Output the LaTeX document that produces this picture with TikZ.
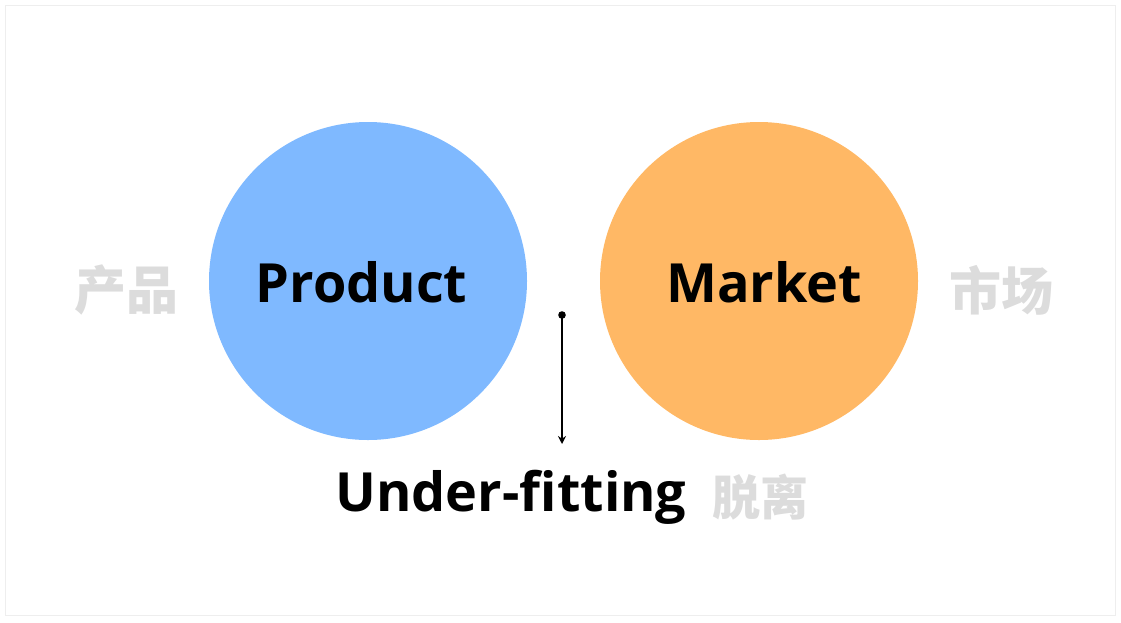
\documentclass[tikz,border=0pt]{standalone}
\usepackage{fontspec}
\usetikzlibrary{arrows.meta}
\setmainfont{Open Sans}
\newfontfamily\cjk{Noto Sans CJK SC}
\definecolor{prodblue}{HTML}{7FB9FF}
\definecolor{mktorange}{HTML}{FFB865}
\definecolor{cngray}{HTML}{DCDCDC}
\definecolor{framegray}{HTML}{EEEEEE}
\begin{document}
\begin{tikzpicture}[x=1pt,y=-1pt,
  big/.style={font=\fontsize{54}{54}\selectfont\bfseries, inner sep=0pt, anchor=base},
  cn/.style={font=\cjk\fontsize{52}{52}\selectfont\bfseries, text=cngray, inner sep=0pt},
  circ/.style={circle, minimum size=318pt, inner sep=0pt}]
\useasboundingbox (0,0) rectangle (1121,622);
\draw[framegray, line width=1pt] (5.5,5.5) rectangle (1115.5,615.5);
\node[circ, fill=prodblue] (prod) at (368,281) {};
\node[circ, fill=mktorange] (mkt) at (759,281) {};
\node[big] (ptxt) at (361.5,302) {Product};
\node[big] (mtxt) at (764,302) {Market};
\node[big] (utxt) at (511,511) {Under-fitting};
\node[cn] (cprod) at (126.5,290) {产品};
\node[cn] (cmkt) at (1001.5,290) {市场};
\node[cn, font=\cjk\fontsize{48}{48}\selectfont\bfseries] (cout) at (760.5,497) {脱离};
\coordinate (top) at (562,315);
\coordinate (bot) at (562,444);
\fill (top) circle (3.8pt);
\draw[line width=2pt, -{Stealth[length=8pt,width=8pt]}] (top) -- (bot);
\end{tikzpicture}
\end{document}
